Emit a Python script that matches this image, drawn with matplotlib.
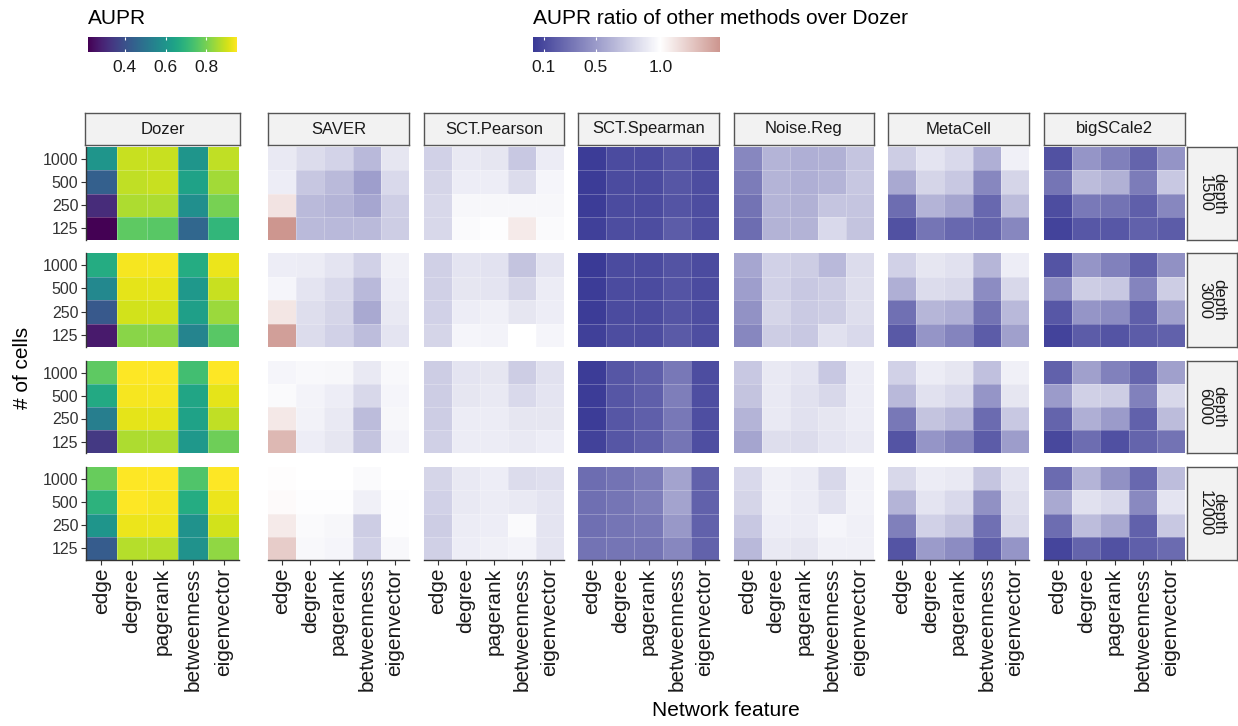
import numpy as np
import matplotlib.pyplot as plt
from matplotlib.colors import LinearSegmentedColormap, TwoSlopeNorm, Normalize

plt.rcParams['font.family'] = ['Liberation Sans', 'DejaVu Sans']

cells = ['1000', '500', '250', '125']
features = ['edge', 'degree', 'pagerank', 'betweenness', 'eigenvector']
depths = ['1500', '3000', '6000', '12000']
methods = ['SAVER', 'SCT.Pearson', 'SCT.Spearman', 'Noise.Reg', 'MetaCell', 'bigSCale2']

# AUPR of Dozer, per depth; rows = cells (1000, 500, 250, 125), cols = features
dozer = [
    [[0.60, 0.89, 0.89, 0.60, 0.88],
     [0.44, 0.88, 0.89, 0.64, 0.85],
     [0.31, 0.86, 0.86, 0.58, 0.80],
     [0.22, 0.77, 0.76, 0.46, 0.70]],
    [[0.67, 0.94, 0.94, 0.67, 0.93],
     [0.56, 0.92, 0.92, 0.61, 0.89],
     [0.42, 0.90, 0.90, 0.63, 0.84],
     [0.27, 0.82, 0.82, 0.55, 0.76]],
    [[0.77, 0.95, 0.95, 0.73, 0.95],
     [0.66, 0.94, 0.94, 0.65, 0.92],
     [0.53, 0.92, 0.92, 0.64, 0.88],
     [0.34, 0.86, 0.86, 0.61, 0.79]],
    [[0.78, 0.95, 0.95, 0.75, 0.95],
     [0.69, 0.95, 0.94, 0.67, 0.93],
     [0.60, 0.93, 0.93, 0.59, 0.90],
     [0.43, 0.87, 0.87, 0.59, 0.83]],
]

# AUPR ratio over Dozer
saver = [
    [[0.885, 0.83, 0.78, 0.65, 0.87],
     [0.91, 0.72, 0.66, 0.52, 0.81],
     [1.12, 0.66, 0.63, 0.56, 0.76],
     [1.46, 0.66, 0.65, 0.66, 0.75]],
    [[0.915, 0.90, 0.865, 0.775, 0.925],
     [0.95, 0.865, 0.815, 0.65, 0.915],
     [1.11, 0.835, 0.785, 0.575, 0.885],
     [1.42, 0.825, 0.775, 0.675, 0.865]],
    [[0.95, 0.965, 0.96, 0.885, 0.965],
     [0.975, 0.94, 0.915, 0.80, 0.95],
     [1.10, 0.935, 0.885, 0.665, 0.955],
     [1.31, 0.915, 0.875, 0.70, 0.94]],
    [[1.01, 1.0, 1.0, 0.975, 1.0],
     [1.02, 0.985, 0.985, 0.925, 0.99],
     [1.09, 0.975, 0.955, 0.75, 0.985],
     [1.22, 0.965, 0.95, 0.775, 0.965]],
]

sct_pearson = [
    [[0.775, 0.885, 0.875, 0.725, 0.905],
     [0.785, 0.915, 0.915, 0.825, 0.95],
     [0.80, 0.96, 0.955, 0.955, 0.955],
     [0.80, 0.975, 0.99, 1.09, 0.975]],
    [[0.765, 0.865, 0.855, 0.70, 0.865],
     [0.765, 0.875, 0.865, 0.785, 0.90],
     [0.775, 0.915, 0.925, 0.875, 0.915],
     [0.785, 0.95, 0.94, 1.0, 0.95]],
    [[0.75, 0.865, 0.875, 0.75, 0.85],
     [0.75, 0.875, 0.885, 0.815, 0.865],
     [0.75, 0.90, 0.90, 0.875, 0.875],
     [0.765, 0.90, 0.905, 0.885, 0.915]],
    [[0.785, 0.885, 0.915, 0.825, 0.845],
     [0.775, 0.885, 0.905, 0.885, 0.865],
     [0.75, 0.905, 0.915, 0.975, 0.865],
     [0.765, 0.915, 0.925, 0.945, 0.865]],
]

sct_spearman = [
    [[0.03, 0.10, 0.10, 0.16, 0.10],
     [0.03, 0.10, 0.10, 0.16, 0.11],
     [0.03, 0.10, 0.10, 0.15, 0.11],
     [0.05, 0.11, 0.11, 0.19, 0.12]],
    [[0.02, 0.10, 0.10, 0.14, 0.10],
     [0.03, 0.10, 0.10, 0.15, 0.10],
     [0.03, 0.10, 0.10, 0.15, 0.11],
     [0.05, 0.11, 0.11, 0.18, 0.12]],
    [[0.03, 0.16, 0.20, 0.33, 0.11],
     [0.03, 0.16, 0.20, 0.36, 0.12],
     [0.03, 0.16, 0.20, 0.33, 0.12],
     [0.06, 0.16, 0.20, 0.31, 0.12]],
    [[0.27, 0.30, 0.35, 0.54, 0.21],
     [0.28, 0.31, 0.36, 0.54, 0.21],
     [0.28, 0.31, 0.33, 0.49, 0.21],
     [0.30, 0.31, 0.31, 0.40, 0.22]],
]

noise_reg = [
    [[0.40, 0.63, 0.60, 0.61, 0.71],
     [0.35, 0.63, 0.60, 0.63, 0.72],
     [0.30, 0.63, 0.61, 0.71, 0.71],
     [0.27, 0.62, 0.62, 0.81, 0.70]],
    [[0.56, 0.775, 0.75, 0.65, 0.825],
     [0.52, 0.775, 0.725, 0.75, 0.835],
     [0.46, 0.785, 0.735, 0.75, 0.835],
     [0.40, 0.75, 0.725, 0.85, 0.815]],
    [[0.725, 0.885, 0.865, 0.725, 0.905],
     [0.70, 0.885, 0.85, 0.80, 0.905],
     [0.625, 0.885, 0.85, 0.875, 0.905],
     [0.55, 0.835, 0.825, 0.865, 0.885]],
    [[0.815, 0.925, 0.905, 0.80, 0.935],
     [0.785, 0.925, 0.905, 0.85, 0.935],
     [0.725, 0.915, 0.905, 0.95, 0.925],
     [0.65, 0.885, 0.875, 0.925, 0.925]],
]

metacell = [
    [[0.75, 0.865, 0.815, 0.60, 0.925],
     [0.575, 0.785, 0.725, 0.40, 0.785],
     [0.275, 0.625, 0.55, 0.25, 0.665],
     [0.135, 0.31, 0.25, 0.225, 0.40]],
    [[0.775, 0.875, 0.85, 0.635, 0.915],
     [0.60, 0.825, 0.80, 0.425, 0.80],
     [0.285, 0.635, 0.60, 0.30, 0.65],
     [0.175, 0.475, 0.385, 0.185, 0.525]],
    [[0.775, 0.905, 0.875, 0.685, 0.925],
     [0.65, 0.85, 0.815, 0.475, 0.875],
     [0.325, 0.70, 0.65, 0.265, 0.725],
     [0.15, 0.475, 0.40, 0.185, 0.515]],
    [[0.80, 0.905, 0.885, 0.715, 0.865],
     [0.625, 0.865, 0.815, 0.45, 0.835],
     [0.365, 0.775, 0.70, 0.285, 0.80],
     [0.15, 0.50, 0.425, 0.20, 0.475]],
]

bigscale2 = [
    [[0.135, 0.475, 0.365, 0.225, 0.465],
     [0.31, 0.665, 0.615, 0.35, 0.725],
     [0.115, 0.335, 0.30, 0.20, 0.40],
     [0.065, 0.165, 0.165, 0.215, 0.185]],
    [[0.15, 0.475, 0.375, 0.20, 0.45],
     [0.425, 0.75, 0.725, 0.385, 0.75],
     [0.165, 0.475, 0.425, 0.20, 0.525],
     [0.065, 0.185, 0.15, 0.185, 0.215]],
    [[0.215, 0.525, 0.375, 0.235, 0.525],
     [0.50, 0.765, 0.75, 0.375, 0.80],
     [0.225, 0.60, 0.50, 0.215, 0.665],
     [0.085, 0.275, 0.125, 0.225, 0.30]],
    [[0.265, 0.625, 0.45, 0.25, 0.675],
     [0.575, 0.85, 0.815, 0.415, 0.865],
     [0.275, 0.675, 0.575, 0.215, 0.725],
     [0.075, 0.225, 0.135, 0.20, 0.265]],
]

ratios = [saver, sct_pearson, sct_spearman, noise_reg, metacell, bigscale2]

W, H = 1238, 726
fig = plt.figure(figsize=(W / 100, H / 100), dpi=100)


def rect(x0, y0, x1, y1):
    return [x0 / W, 1 - y1 / H, (x1 - x0) / W, (y1 - y0) / H]


aupr_norm = Normalize(vmin=0.22, vmax=0.95)
ratio_cmap = LinearSegmentedColormap.from_list(
    'ratio', [(0, '#3A3A96'), (0.5, '#FFFFFF'), (1, '#CD968F')])
ratio_norm = TwoSlopeNorm(vcenter=1.0, vmin=0.015, vmax=1.46)

rows_y = [(147, 240), (253, 347), (361, 453), (467, 560)]
dozer_x = (86, 239)
panels_x = [(268, 409), (424, 564), (578, 719), (734, 874), (888, 1029), (1044, 1185)]
line_col = '#333333'


def draw_panel(ax, data, cmap, norm, left_axis, bottom_axis):
    ax.pcolormesh(np.arange(6), np.arange(5), np.array(data), cmap=cmap, norm=norm,
                  edgecolors='none')
    # faint white tile borders
    for k in range(1, 5):
        ax.axvline(k, color='white', lw=0.5, alpha=0.35)
    for k in range(1, 4):
        ax.axhline(k, color='white', lw=0.5, alpha=0.35)
    ax.set_xlim(0, 5)
    ax.set_ylim(4, 0)
    for s in ['top', 'right']:
        ax.spines[s].set_visible(False)
    ax.spines['left'].set_visible(left_axis)
    ax.spines['bottom'].set_visible(bottom_axis)
    for s in ['left', 'bottom']:
        ax.spines[s].set_color(line_col)
        ax.spines[s].set_linewidth(1.0)
    if left_axis:
        ax.set_yticks(np.arange(4) + 0.5)
        ax.set_yticklabels(cells, fontsize=11.5, color='#333333')
        ax.tick_params(axis='y', length=3.5, width=0.8, color=line_col, pad=2)
    else:
        ax.set_yticks([])
    if bottom_axis:
        ax.set_xticks(np.arange(5) + 0.5)
        ax.set_xticklabels(features, fontsize=15, rotation=90, color='#1a1a1a')
        ax.tick_params(axis='x', length=3.5, width=0.8, color=line_col, pad=2)
    else:
        ax.set_xticks([])


def strip(x0, y0, x1, y1, text, rot=0):
    s = fig.add_axes(rect(x0, y0, x1, y1))
    s.set_facecolor('#F2F2F2')
    s.set_xticks([])
    s.set_yticks([])
    for sp in s.spines.values():
        sp.set_color('#555555')
        sp.set_linewidth(1.0)
    s.text(0.5, 0.5, text, ha='center', va='center', rotation=rot,
           fontsize=12, color='#1a1a1a', transform=s.transAxes, linespacing=0.95)


# Dozer column
for i, (y0, y1) in enumerate(rows_y):
    ax = fig.add_axes(rect(dozer_x[0], y0, dozer_x[1], y1))
    draw_panel(ax, dozer[i], 'viridis', aupr_norm, True, i == 3)
strip(85, 113, 240, 145, 'Dozer')

# other methods
for j, m in enumerate(methods):
    x0, x1 = panels_x[j]
    for i, (y0, y1) in enumerate(rows_y):
        ax = fig.add_axes(rect(x0, y0, x1, y1))
        draw_panel(ax, ratios[j][i], ratio_cmap, ratio_norm, False, i == 3)
    strip(x0, 113, x1, 145, m)

for i, (y0, y1) in enumerate(rows_y):
    strip(1187, y0, 1237, y1, 'depth\n' + depths[i], rot=270)

fig.text(22 / W, 1 - 368 / H, '# of cells', rotation=90, ha='center', va='center', fontsize=15)
fig.text(726 / W, 1 - 711 / H, 'Network feature', ha='center', va='center', fontsize=15)

# legends
fig.text(88 / W, 1 - 18 / H, 'AUPR', ha='left', va='center', fontsize=15)
cax = fig.add_axes(rect(88, 37, 237, 52))
grad = np.linspace(0.22, 0.95, 256)[None, :]
cax.imshow(grad, cmap='viridis', norm=aupr_norm, aspect='auto', extent=[0.22, 0.95, 0, 1])
for t in [0.4, 0.6, 0.8]:
    cax.vlines(t, 0, 0.2, color='white', lw=0.8)
    cax.vlines(t, 0.8, 1, color='white', lw=0.8)
cax.set_xticks([0.4, 0.6, 0.8])
cax.set_xticklabels(['0.4', '0.6', '0.8'], fontsize=12.5, color='#1a1a1a')
cax.tick_params(axis='x', length=0, pad=6)
cax.set_yticks([])
for sp in cax.spines.values():
    sp.set_visible(False)

fig.text(533 / W, 1 - 18 / H, 'AUPR ratio of other methods over Dozer', ha='left', va='center', fontsize=15)
rax = fig.add_axes(rect(533, 37, 720, 52))
grad2 = np.linspace(0.015, 1.46, 400)[None, :]
rax.imshow(grad2, cmap=ratio_cmap, norm=ratio_norm, aspect='auto', extent=[0.015, 1.46, 0, 1])
for t in [0.1, 0.5, 1.0]:
    rax.vlines(t, 0, 0.2, color='white', lw=0.8)
    rax.vlines(t, 0.8, 1, color='white', lw=0.8)
rax.set_xticks([0.1, 0.5, 1.0])
rax.set_xticklabels(['0.1', '0.5', '1.0'], fontsize=12.5, color='#1a1a1a')
rax.tick_params(axis='x', length=0, pad=6)
rax.set_yticks([])
for sp in rax.spines.values():
    sp.set_visible(False)

fig.savefig('out.png', dpi=100)
